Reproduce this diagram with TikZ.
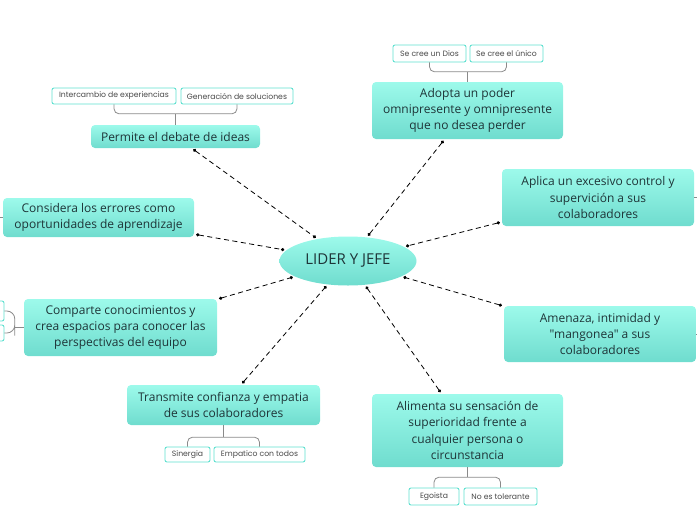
\documentclass[tikz,border=0pt]{standalone}
\usepackage{fontspec}
\setmainfont{Open Sans}[Ligatures=TeXOff]
\newfontfamily\labelfont{Poppins}
\usetikzlibrary{arrows.meta, positioning, shapes.geometric}
\definecolor{ctop}{HTML}{9DFAEB}
\definecolor{cbot}{HTML}{6FDCCE}
\definecolor{ctext}{HTML}{1E3538}
\definecolor{cleaf}{HTML}{5FE0D0}
\definecolor{cgray}{HTML}{4A4A4A}
\definecolor{cbrace}{HTML}{8A8A8A}
\begin{document}
\begin{tikzpicture}[
  x=1pt, y=-1pt,
  font=\fontsize{12}{16.3}\selectfont,
  idea/.style={rounded corners=4pt, align=center, text=ctext, inner sep=0pt,
               top color=ctop, bottom color=cbot, draw=none},
  root/.style={ellipse, top color=ctop, bottom color=cbot, text=ctext,
               minimum width=137pt, minimum height=49pt,
               font=\fontsize{15}{18}\selectfont},
  leaf/.style={draw=cleaf, line width=0.9pt, rounded corners=2pt, fill=white,
               text=cgray, inner sep=0pt, font=\labelfont\fontsize{7.7}{9}\selectfont},
  link/.style={dash pattern=on 5pt off 3.5pt, line width=0.8pt,
               {Circle[length=3.2pt]}-{Circle[length=3.2pt]},
               shorten <=2pt, shorten >=2pt},
  brace/.style={draw=cbrace, line width=0.8pt, rounded corners=5pt},
  ]
\useasboundingbox (0,0) rectangle (697,520);
% ---- centre
\node[root] (lj) at (348,261) {LIDER Y JEFE};
% ---- ideas
\node[idea, minimum width=169pt, minimum height=23pt] (debate) at (175.5,136.5)
  {Permite el debate de ideas};
\node[idea, minimum width=191pt, minimum height=57pt] (poder) at (467.5,110.5)
  {Adopta un poder\\omnipresente y omnipresente\\que no desea perder};
\node[idea, minimum width=191pt, minimum height=39pt] (errores) at (98.5,217.5)
  {Considera los errores como\\oportunidades de aprendizaje};
\node[idea, minimum width=193pt, minimum height=57pt] (compart) at (120.5,327.5)
  {Comparte conocimientos y\\crea espacios para conocer las\\perspectivas del equipo};
\node[idea, minimum width=192pt, minimum height=57pt] (control) at (598,197.5)
  {Aplica un excesivo control y\\supervición a sus\\colaboradores};
\node[idea, minimum width=192pt, minimum height=56pt] (amenaza) at (600,334)
  {Amenaza, intimidad y\\"mangonea" a sus\\colaboradores};
\node[idea, minimum width=193pt, minimum height=40pt] (confianza) at (223.5,405)
  {Transmite confianza y empatia\\de sus colaboradores};
\node[idea, minimum width=191pt, minimum height=73pt] (superior) at (467.5,430.5)
  {Alimenta su sensación de\\superioridad frente a\\cualquier persona o\\circunstancia};
% ---- leaves
\node[leaf, minimum width=124pt, minimum height=16pt] (inter) at (114,96)
  {Intercambio de experiencias};
\node[leaf, minimum width=112pt, minimum height=16pt] (gener) at (237,96)
  {Generación de soluciones};
\node[leaf, minimum width=73pt, minimum height=17pt] (dios) at (429.5,53.5)
  {Se cree un Dios};
\node[leaf, minimum width=73pt, minimum height=17pt] (unico) at (506.5,53.5)
  {Se cree el único};
\node[leaf, minimum width=45pt, minimum height=15pt] (sinergia) at (187.5,454.5)
  {Sinergia};
\node[leaf, minimum width=91pt, minimum height=15pt] (empatico) at (259.5,454.5)
  {Empatico con todos};
\node[leaf, minimum width=50pt, minimum height=17pt] (egoista) at (434,496.5)
  {Egoista};
\node[leaf, minimum width=73pt, minimum height=17pt] (toler) at (500.5,496.5)
  {No es tolerante};
\node[leaf, minimum width=80pt, minimum height=20pt] (hijoa) at (-36,311) {};
\node[leaf, minimum width=80pt, minimum height=16pt] (hijob) at (-36,333) {};
% ---- links from centre
\draw[link] (debate) -- (lj);
\draw[link] (poder) -- (lj);
\draw[link] (errores) -- (lj);
\draw[link] (compart) -- (lj);
\draw[link] (control) -- (lj);
\draw[link] (amenaza) -- (lj);
\draw[link] (confianza) -- (lj);
\draw[link] (superior) -- (lj);
% ---- braces to leaves
\draw[brace] (debate.north) -- ++(0,-11) coordinate (j1);
\draw[brace] (inter.south) |- (j1) -| (gener.south);
\draw[brace] (poder.north) -- ++(0,-10) coordinate (j2);
\draw[brace] (dios.south) |- (j2) -| (unico.south);
\draw[brace] (confianza.south) -- ++(0,12) coordinate (j3);
\draw[brace] (sinergia.north) |- (j3) -| (empatico.north);
\draw[brace] (superior.south) -- ++(0,10) coordinate (j4);
\draw[brace] (egoista.north) |- (j4) -| (toler.north);
\draw[brace] (compart.west) -- ++(-9,0) coordinate (j5);
\draw[brace, rounded corners=8pt] (hijoa.east) -| (j5) |- (hijob.east);
% ---- stubs
\draw[brace] (errores.west) -- ++(-6,0) coordinate (s1);
\draw[brace] (control.east) -- ++(6,0) coordinate (s2);
\draw[brace] (amenaza.east) -- ++(6,0) coordinate (s3);
\end{tikzpicture}
\end{document}
